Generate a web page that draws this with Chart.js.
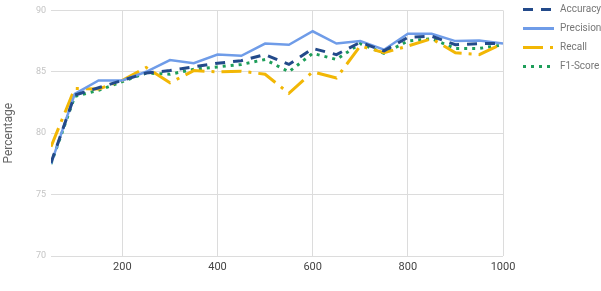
<!DOCTYPE html>
<html>
<head>
<meta charset="utf-8">
<script src="https://cdn.jsdelivr.net/npm/chart.js@4"></script>
<style>
  html, body { margin: 0; padding: 0; background: #fff; }
  #wrap { width: 601px; height: 291px; position: relative; }
</style>
</head>
<body>
<div id="wrap"><canvas id="grafica"></canvas></div>
<script>
// --- datos ---
const pasos = [50, 100, 150, 200, 250, 300, 350, 400, 450, 500, 550, 600, 650, 700, 750, 800, 850, 900, 950, 1000];
const accuracy  = [77.6, 83.1, 83.7, 84.3, 84.9, 85.1, 85.4, 85.7, 85.9, 86.4, 85.6, 86.9, 86.4, 87.4, 86.7, 87.8, 87.9, 87.2, 87.3, 87.3];
const precision = [77.5, 83.2, 84.3, 84.3, 85.0, 85.95, 85.7, 86.4, 86.3, 87.3, 87.2, 88.3, 87.3, 87.5, 86.8, 88.1, 88.1, 87.5, 87.55, 87.3];
const recall    = [78.9, 83.65, 83.6, 84.3, 85.35, 84.1, 85.1, 85.0, 85.05, 84.8, 83.25, 85.0, 84.5, 87.1, 86.55, 87.1, 87.7, 86.55, 86.4, 87.3];
const f1score   = [77.5, 83.0, 83.5, 84.2, 84.9, 84.8, 85.2, 85.4, 85.6, 86.0, 85.0, 86.5, 86.0, 87.3, 86.5, 87.5, 87.7, 86.9, 86.9, 87.2];
const ticksX = [200, 400, 600, 800, 1000];
const ticksY = [70, 75, 80, 85, 90];

function puntos(valores) {
    return pasos.map((x, i) => ({ x: x, y: valores[i] }));
}

// Leyenda dibujada a mano (Chart.js no muestra guiones en la muestra)
const leyendaPlugin = {
    id: 'leyendaLineas',
    afterDraw(chart) {
        const ctx = chart.ctx;
        chart.data.datasets.forEach((ds, i) => {
            const y = 9.5 + i * 19;
            ctx.save();
            ctx.strokeStyle = ds.borderColor;
            ctx.lineWidth = 3;
            ctx.setLineDash(ds.borderDash || []);
            ctx.beginPath();
            ctx.moveTo(523, y);
            ctx.lineTo(554, y);
            ctx.stroke();
            ctx.setLineDash([]);
            ctx.fillStyle = '#777';
            ctx.font = '10px Roboto';
            ctx.textBaseline = 'middle';
            ctx.fillText(ds.label, 560, y);
            ctx.restore();
        });
    }
};

new Chart(document.getElementById('grafica'), {
    type: 'line',
    data: {
        datasets: [
            { label: 'Accuracy', data: puntos(accuracy), borderColor: '#234a8a', borderWidth: 3, borderDash: [10, 8], pointRadius: 0, fill: false },
            { label: 'Precision', data: puntos(precision), borderColor: '#6f9ce8', borderWidth: 2.5, pointRadius: 0, fill: false },
            { label: 'Recall', data: puntos(recall), borderColor: '#f2b705', borderWidth: 3, borderDash: [20, 7, 3, 7], pointRadius: 0, fill: false },
            { label: 'F1-Score', data: puntos(f1score), borderColor: '#1e9e5a', borderWidth: 3, borderDash: [3, 5], pointRadius: 0, fill: false }
        ]
    },
    options: {
        responsive: true,
        maintainAspectRatio: false,
        animation: false,
        layout: { padding: { top: 8, right: 98, left: 2, bottom: 0 } },
        plugins: { legend: { display: false }, tooltip: { enabled: false } },
        scales: {
            x: {
                type: 'linear',
                min: 50,
                max: 1000,
                afterBuildTicks: s => { s.ticks = ticksX.map(v => ({ value: v })); },
                afterFit: s => { s.height = 35; },
                grid: { color: '#dcdcdc', drawTicks: false },
                border: { display: false },
                ticks: { color: '#444', font: { family: 'Roboto', size: 11 }, padding: 5, maxRotation: 0, callback: v => String(v) }
            },
            y: {
                min: 70,
                max: 90,
                afterBuildTicks: s => { s.ticks = ticksY.map(v => ({ value: v })); },
                afterFit: s => { s.width = 49; },
                grid: { color: '#dcdcdc', drawTicks: false },
                border: { display: false },
                ticks: { color: '#c4c4c4', font: { family: 'Roboto', size: 9 }, padding: 5 },
                title: { display: true, text: 'Percentage', color: '#666', font: { family: 'Roboto', size: 12 }, padding: 0 }
            }
        }
    },
    plugins: [leyendaPlugin]
});
</script>
</body>
</html>
